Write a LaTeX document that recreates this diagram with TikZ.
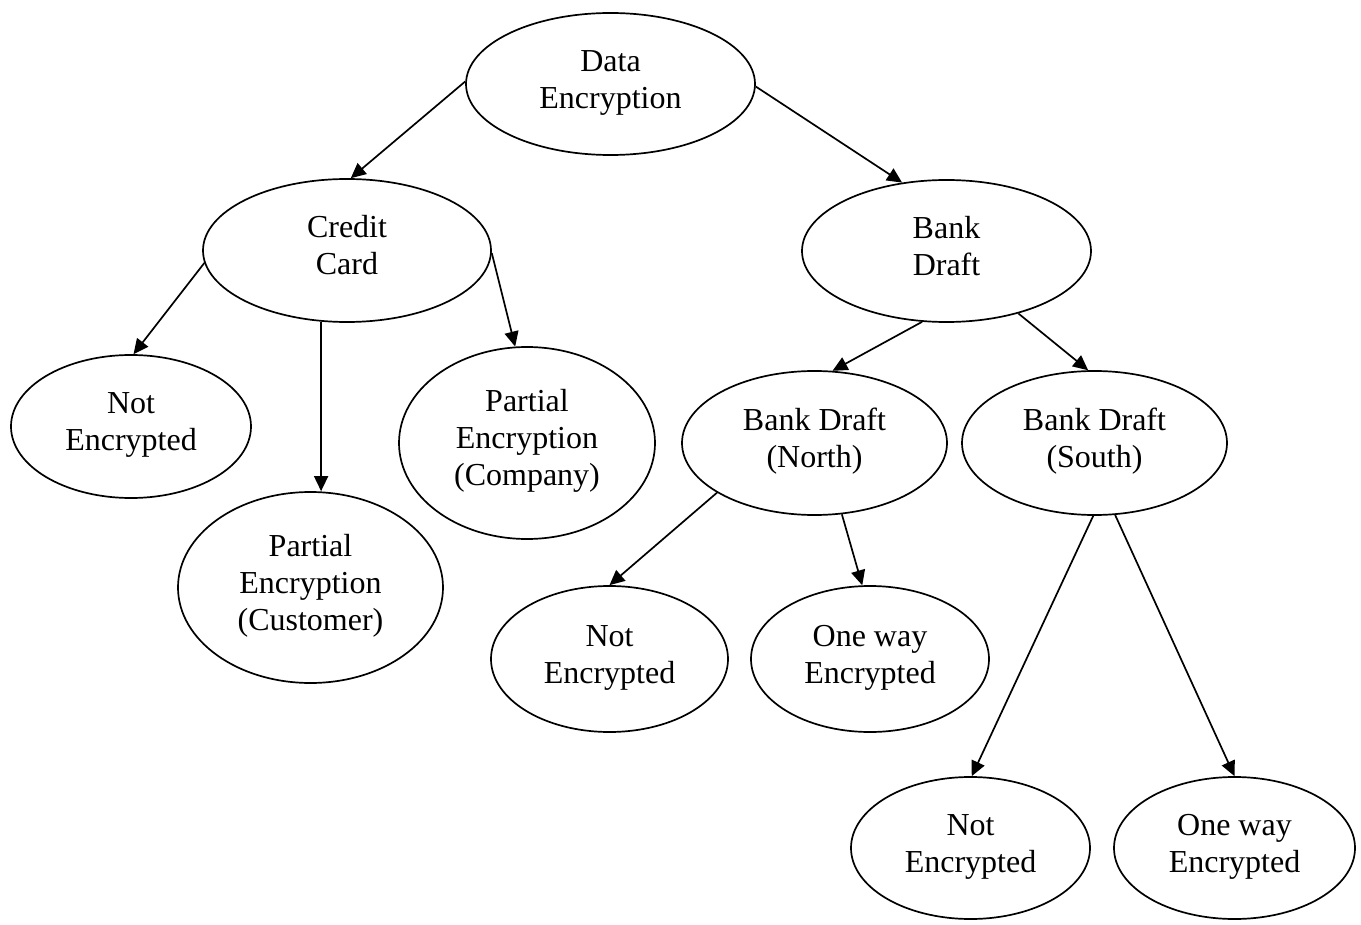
\documentclass[tikz,border=0pt]{standalone}
\usepackage{fontspec}
\setmainfont{Liberation Serif}
\usetikzlibrary{shapes.geometric,arrows.meta}
% centred lines with even struts, lifted a little above the oval's centre
\newcommand{\ovaltext}[1]{\raisebox{1.5pt}[\height][\depth]{\begin{tabular}{@{}c@{}}#1\end{tabular}}}
\begin{document}
\begin{tikzpicture}[x=1pt,y=-1pt,
  oval/.style={draw, line width=1.7pt, ellipse, inner sep=0pt,
    font=\fontsize{32}{37}\selectfont},
  link/.style={line width=1.7pt, -{Triangle[length=15pt,width=14pt]}}]
\useasboundingbox (0,0) rectangle (1361,925);

% top level
\node[oval, minimum width=289, minimum height=142] (de) at (610.5,84) {\ovaltext{Data\\Encryption}};

% second level
\node[oval, minimum width=288, minimum height=143] (cc) at (347,250.5) {\ovaltext{Credit\\Card}};
\node[oval, minimum width=289, minimum height=142] (bd) at (946.5,251) {\ovaltext{Bank\\Draft}};

% credit card branch
\node[oval, minimum width=240, minimum height=143] (ne1) at (131,426.5) {\ovaltext{Not\\Encrypted}};
\node[oval, minimum width=265, minimum height=191] (pcu) at (310.5,587.5) {\ovaltext{Partial\\Encryption\\(Customer)}};
\node[oval, minimum width=256, minimum height=192] (pco) at (527,443) {\ovaltext{Partial\\Encryption\\(Company)}};

% bank draft branch
\node[oval, minimum width=265, minimum height=144] (bn) at (814.5,443) {\ovaltext{Bank Draft\\(North)}};
\node[oval, minimum width=265, minimum height=144] (bs) at (1094.5,443) {\ovaltext{Bank Draft\\(South)}};
\node[oval, minimum width=237, minimum height=146] (ne2) at (609.5,659) {\ovaltext{Not\\Encrypted}};
\node[oval, minimum width=238, minimum height=146] (ow2) at (870,659) {\ovaltext{One way\\Encrypted}};
\node[oval, minimum width=239, minimum height=142] (ne3) at (970.5,848) {\ovaltext{Not\\Encrypted}};
\node[oval, minimum width=241, minimum height=142] (ow3) at (1234.5,848) {\ovaltext{One way\\Encrypted}};

% connectors
\draw[link] (de.179.5) -- (cc.87);
\draw[link] (de.-1.5) -- (bd.123);
\draw[link] (cc.185) -- (ne1.88);
\draw[link] (cc.250.5) -- (cc.250.5 |- pcu.north);
\draw[link] (cc.-1) -- (pco.97);
\draw[link] (bd.251.5) -- (bn.76);
\draw[link] (bd.-41) -- (bs.95);
\draw[link] (bn.207.7) -- (ne2.90);
\draw[link] (bn.-69.4) -- (ow2.96);
\draw[link] (bs.-91.5) -- (ne3.89);
\draw[link] (bs.-74) -- (ow3.90);
\end{tikzpicture}
\end{document}
